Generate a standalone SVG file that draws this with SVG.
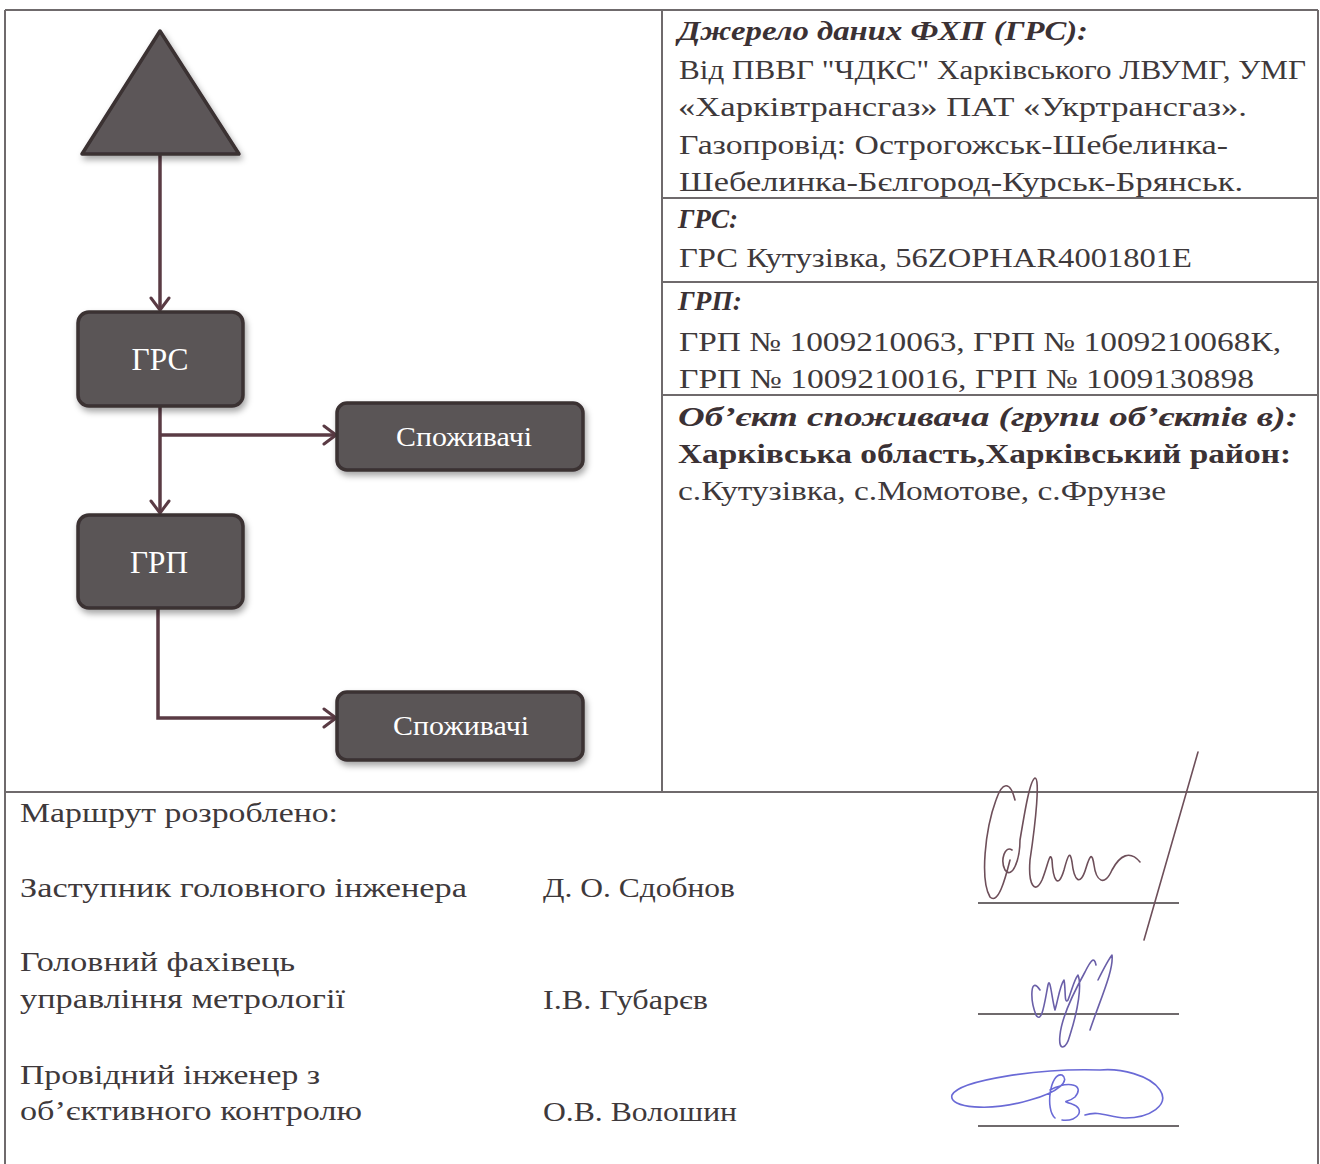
<svg xmlns="http://www.w3.org/2000/svg" width="1320" height="1164" viewBox="0 0 1320 1164">
<defs>
<style>
.t{font-family:"Liberation Serif","DejaVu Serif",serif;font-size:28px;fill:#3e393b;}
.h{font-family:"Liberation Serif","DejaVu Serif",serif;font-size:28px;font-weight:bold;font-style:italic;fill:#3b3134;}
.b{font-family:"Liberation Serif","DejaVu Serif",serif;font-size:28px;font-weight:bold;fill:#3b3134;}
.nl{font-family:"Liberation Serif","Times New Roman",serif;fill:#ffffff;text-anchor:middle;}
.grid{stroke:#6f6a6c;stroke-width:2;fill:none;}
.box{fill:#5a5556;stroke:#3a3033;stroke-width:3.5;}
.con{stroke:#5a3b44;stroke-width:3.5;fill:none;}
.sig{fill:none;stroke-width:1.6;stroke-linecap:round;stroke-linejoin:round;}
</style>
<filter id="sh" x="-20%" y="-20%" width="150%" height="160%">
<feDropShadow dx="2" dy="4" stdDeviation="3" flood-color="#000" flood-opacity="0.35"/>
</filter>
<marker id="arr" viewBox="0 0 16 22" refX="14" refY="11" markerWidth="16" markerHeight="22" markerUnits="userSpaceOnUse" orient="auto">
<path d="M2,2 L14,11 L2,20" fill="none" stroke="#5a3b44" stroke-width="3" stroke-linecap="round" stroke-linejoin="round"/>
</marker>
</defs>
<rect width="1320" height="1164" fill="#ffffff"/>

<g id="table">
<line class="grid" x1="5" y1="10" x2="1318" y2="10"/>
<line class="grid" x1="5" y1="10" x2="5" y2="1164"/>
<line class="grid" x1="1318" y1="10" x2="1318" y2="1164"/>
<line class="grid" x1="5" y1="792" x2="1318" y2="792"/>
<line class="grid" x1="662" y1="10" x2="662" y2="792"/>
<line class="grid" x1="662" y1="198" x2="1318" y2="198"/>
<line class="grid" x1="662" y1="282" x2="1318" y2="282"/>
<line class="grid" x1="662" y1="395" x2="1318" y2="395"/>
</g>

<g id="connectors">
<path class="con" d="M160,155 L160,310" marker-end="url(#arr)"/>
<path class="con" d="M160,406 L160,513" marker-end="url(#arr)"/>
<path class="con" d="M160,435 L336,435" marker-end="url(#arr)"/>
<path class="con" d="M158,608 L158,718 L336,718" marker-end="url(#arr)"/>
</g>

<g id="source">
<polygon points="160,31 239,154 82,154" fill="#5c5758" stroke="#3a3033" stroke-width="3.5" stroke-linejoin="round" filter="url(#sh)"/>
</g>
<g id="grs">
<rect class="box" x="78" y="312" width="165" height="94" rx="11" filter="url(#sh)"/>
<text class="nl" x="160" y="370" font-size="31" textLength="57" lengthAdjust="spacingAndGlyphs">ГРС</text>
</g>
<g id="consumers1">
<rect class="box" x="337" y="403" width="246" height="67" rx="10" filter="url(#sh)"/>
<text class="nl" x="464" y="446" font-size="27" textLength="136" lengthAdjust="spacingAndGlyphs">Споживачі</text>
</g>
<g id="grp">
<rect class="box" x="78" y="515" width="165" height="93" rx="11" filter="url(#sh)"/>
<text class="nl" x="159" y="573" font-size="31" textLength="58" lengthAdjust="spacingAndGlyphs">ГРП</text>
</g>
<g id="consumers2">
<rect class="box" x="337" y="692" width="246" height="68" rx="10" filter="url(#sh)"/>
<text class="nl" x="461" y="735" font-size="27" textLength="136" lengthAdjust="spacingAndGlyphs">Споживачі</text>
</g>

<g id="info">
<text class="h" x="678" y="40" textLength="410" lengthAdjust="spacingAndGlyphs">Джерело даних ФХП (ГРС):</text>
<text class="t" x="679" y="79" textLength="627" lengthAdjust="spacingAndGlyphs">Від ПВВГ "ЧДКС" Харківського ЛВУМГ, УМГ</text>
<text class="t" x="678" y="116" textLength="569" lengthAdjust="spacingAndGlyphs">«Харківтрансгаз»  ПАТ «Укртрансгаз».</text>
<text class="t" x="679" y="154" textLength="549" lengthAdjust="spacingAndGlyphs">Газопровід: Острогожськ-Шебелинка-</text>
<text class="t" x="679" y="191" textLength="564" lengthAdjust="spacingAndGlyphs">Шебелинка-Бєлгород-Курськ-Брянськ.</text>
<text class="h" x="678" y="228" textLength="60" lengthAdjust="spacingAndGlyphs">ГРС:</text>
<text class="t" x="679" y="267" textLength="513" lengthAdjust="spacingAndGlyphs">ГРС Кутузівка, 56ZOPHAR4001801E</text>
<text class="h" x="678" y="310" textLength="64" lengthAdjust="spacingAndGlyphs">ГРП:</text>
<text class="t" x="679" y="351" textLength="602" lengthAdjust="spacingAndGlyphs">ГРП № 1009210063, ГРП № 1009210068К,</text>
<text class="t" x="679" y="388" textLength="575" lengthAdjust="spacingAndGlyphs">ГРП № 1009210016, ГРП № 1009130898</text>
<text class="h" x="678" y="426" textLength="620" lengthAdjust="spacingAndGlyphs">Об’єкт споживача (групи об’єктів в):</text>
<text class="b" x="678" y="463" textLength="613" lengthAdjust="spacingAndGlyphs">Харківська область,Харківський район:</text>
<text class="t" x="678" y="500" textLength="488" lengthAdjust="spacingAndGlyphs">с.Кутузівка, с.Момотове, с.Фрунзе</text>
</g>

<g id="approval">
<text class="t" x="20" y="822" textLength="318" lengthAdjust="spacingAndGlyphs">Маршрут розроблено:</text>
<text class="t" x="20" y="897" textLength="447" lengthAdjust="spacingAndGlyphs">Заступник головного інженера</text>
<text class="t" x="543" y="897" textLength="192" lengthAdjust="spacingAndGlyphs">Д. О. Сдобнов</text>
<text class="t" x="20" y="971" textLength="275" lengthAdjust="spacingAndGlyphs">Головний фахівець</text>
<text class="t" x="20" y="1008" textLength="325" lengthAdjust="spacingAndGlyphs">управління метрології</text>
<text class="t" x="543" y="1009" textLength="165" lengthAdjust="spacingAndGlyphs">І.В. Губарєв</text>
<text class="t" x="20" y="1084" textLength="300" lengthAdjust="spacingAndGlyphs">Провідний інженер з</text>
<text class="t" x="20" y="1120" textLength="342" lengthAdjust="spacingAndGlyphs">об’єктивного контролю</text>
<text class="t" x="543" y="1121" textLength="194" lengthAdjust="spacingAndGlyphs">О.В. Волошин</text>
<line class="grid" x1="978" y1="903" x2="1179" y2="903" stroke="#444"/>
<line class="grid" x1="978" y1="1014" x2="1179" y2="1014" stroke="#444"/>
<line class="grid" x1="978" y1="1126" x2="1179" y2="1126" stroke="#444"/>
</g>

<g id="signatures">
<path class="sig" stroke="#6e4f5a" d="M1015,800 C1010,780 1002,782 996,800 C985,830 980,880 990,897 C998,905 1005,880 1010,860 M1012,850 C1005,845 1000,860 1005,870 C1012,880 1020,860 1020,840 C1025,810 1030,780 1035,778 C1040,778 1036,820 1030,860 C1028,885 1035,895 1042,880 C1048,865 1050,850 1052,860 C1053,880 1058,890 1064,870 C1068,855 1070,850 1072,862 C1074,880 1080,888 1086,868 C1090,855 1092,852 1094,865 C1096,880 1104,888 1112,870 C1120,855 1130,850 1140,862"/>
<path class="sig" stroke="#6e4f5a" d="M1198,752 L1144,940"/>
<path class="sig" stroke="#6a5fa8" d="M1040,990 C1030,975 1030,1000 1036,1015 C1042,1025 1045,1000 1048,985 C1050,975 1052,1000 1055,1010 C1058,1000 1060,985 1064,980 C1066,990 1064,1005 1068,1000 C1072,990 1074,980 1078,975 C1082,985 1078,1010 1070,1035 C1066,1050 1058,1052 1060,1035 C1062,1015 1075,990 1085,972 C1090,962 1094,955 1096,965 M1098,980 C1104,968 1108,960 1112,955 C1114,970 1100,1000 1090,1030"/>
<path class="sig" stroke="#6a6ad6" d="M1100,1070 C1040,1068 960,1080 952,1095 C948,1108 990,1112 1030,1100 C1060,1092 1070,1080 1062,1075 C1050,1072 1045,1110 1055,1118 M1050,1090 C1070,1080 1085,1085 1075,1097 C1068,1103 1060,1100 1072,1104 C1085,1108 1080,1122 1062,1120 M1085,1115 C1100,1110 1110,1118 1125,1118 C1150,1118 1170,1105 1160,1090 C1150,1075 1120,1068 1100,1070"/>
</g>
</svg>
